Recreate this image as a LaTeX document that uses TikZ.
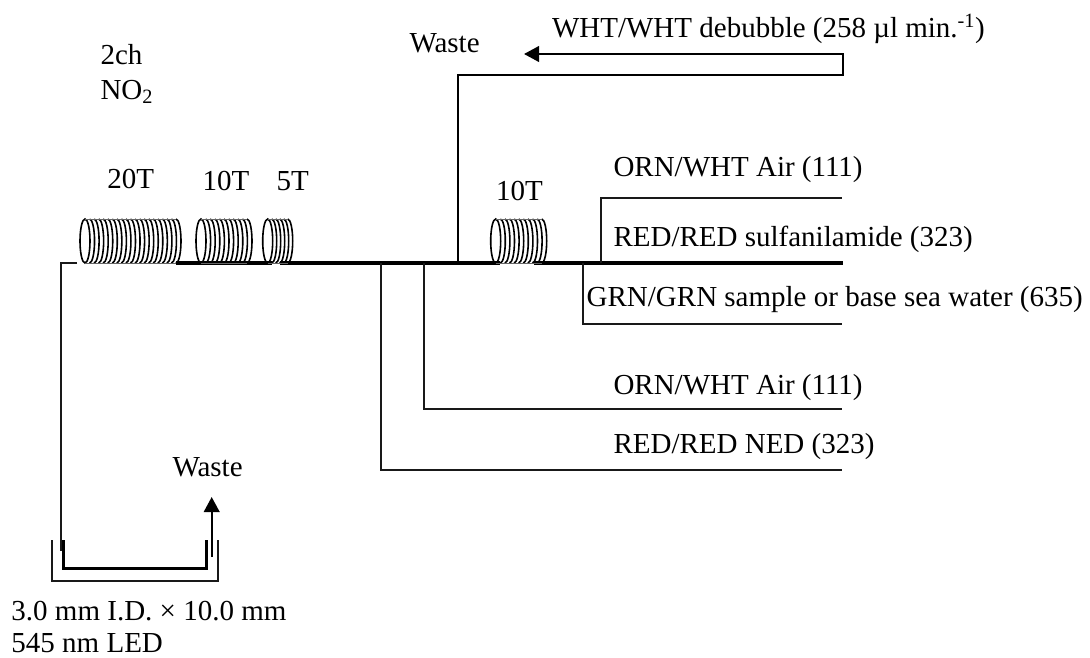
\documentclass[tikz,border=0pt]{standalone}
\usepackage{fontspec}
\setmainfont{Liberation Serif}
\usetikzlibrary{arrows.meta}
\tikzset{
  lab/.style={anchor=base west,inner sep=0pt,outer sep=0pt,font=\fontsize{29}{33}\selectfont},
  tube/.style={line width=2pt,black!90},
  main/.style={line width=3.2pt,black},
  mid/.style={line width=2.4pt,black},
  flow/.style={line width=2.4pt,black,-{Triangle[length=15pt,width=15.5pt]}},
  coilline/.style={line width=1.6pt,black},
  coilrim/.style={line width=.8pt,black!60}
}
\newcommand{\coilshape}[3]{% x first centre, turns, spacing
  \draw[coilline] (#1,241) ellipse [x radius=5,y radius=22];
  \foreach \k in {1,...,#2}{
    \pgfmathsetmacro{\cx}{#1+\k*#3}
    \draw[coilline] (\cx,219) arc[start angle=-90,end angle=90,x radius=5,y radius=22];
    \draw[coilrim] (\cx-#3,219) -- (\cx,219);
    \draw[coilrim] (\cx-#3,263) -- (\cx,263);
  }
}
\begin{document}
\begin{tikzpicture}[x=1pt,y=-1pt]
\useasboundingbox (0,0) rectangle (1090,657);
% anchor coordinates
\coordinate (mainL) at (176,263);
\coordinate (gap1a) at (272,263);
\coordinate (gap1b) at (280,263);
\coordinate (gap2a) at (500,263);
\coordinate (gap2b) at (534,263);
\coordinate (mainR) at (843,263);
\coordinate (inL) at (77,263);
\coordinate (inC) at (60.5,263);
\coordinate (inD) at (60.5,550.5);
\coordinate (jW) at (458,263);
\coordinate (wA) at (458,75);
\coordinate (wB) at (843,75);
\coordinate (wC) at (843,54);
\coordinate (wD) at (524,54);
\coordinate (j1) at (600.5,263);
\coordinate (j1a) at (600.5,197.5);
\coordinate (j1b) at (842,197.5);
\coordinate (j2) at (582.7,263);
\coordinate (j2a) at (582.7,324);
\coordinate (j2b) at (842,324);
\coordinate (j3) at (423.5,263);
\coordinate (j3a) at (423.5,408.7);
\coordinate (j3b) at (842,408.7);
\coordinate (j4) at (380.7,263);
\coordinate (j4a) at (380.7,470);
\coordinate (j4b) at (842,470);
\coordinate (oTL) at (52,540);
\coordinate (oBL) at (52,581);
\coordinate (oBR) at (218,581);
\coordinate (oTR) at (218,540);
\coordinate (iTL) at (63.5,540);
\coordinate (iBL) at (63.5,568.5);
\coordinate (iBR) at (206.5,568.5);
\coordinate (iTR) at (206.5,540);
\coordinate (oS) at (211.7,557);
\coordinate (oE) at (211.7,497);
% tubing
\draw[main] (mainL) -- (gap1a);
\draw[main] (gap1b) -- (gap2a);
\draw[main] (gap2b) -- (mainR);
\draw[tube] (inL) -- (inC) -- (inD);
\draw[mid,line cap=rect] (jW) -- (wA) -- (wB) -- (wC);
\draw[flow] (wC) -- (wD);
\draw[tube] (j1) -- (j1a) -- (j1b);
\draw[tube] (j2) -- (j2a) -- (j2b);
\draw[tube] (j3) -- (j3a) -- (j3b);
\draw[tube] (j4) -- (j4a) -- (j4b);
% flow cell
\draw[tube] (oTL) -- (oBL) -- (oBR) -- (oTR);
\draw[mid] (iTL) -- (iBL) -- (iBR) -- (iTR);
\draw[flow] (oS) -- (oE);
% coils
\coilshape{85}{20}{4.55}
\coilshape{201}{10}{4.6}
\coilshape{267.7}{5}{4}
\coilshape{495.7}{10}{4.6}
% labels
\node[lab] (t2ch) at (100.5,64) {2ch};
\node[lab] (tno) at (100.5,99) {NO\textsubscript{2}};
\node[lab] (t20) at (107.3,188.3) {20T};
\node[lab] (t10a) at (202.5,190) {10T};
\node[lab] (t5) at (276.5,190) {5T};
\node[lab] (t10b) at (496,200) {10T};
\node[lab] (twa) at (409.5,52) {Waste};
\node[lab] (twh) at (552,37) {WHT/WHT debubble (258 µl min.\textsuperscript{-1})};
\node[lab] (tor1) at (613.5,176) {ORN/WHT Air (111)};
\node[lab] (tred) at (613.5,246) {RED/RED sulfanilamide (323)};
\node[lab] (tgrn) at (586.7,306) {GRN/GRN sample or base sea water (635)};
\node[lab] (tor2) at (613.5,394) {ORN/WHT Air (111)};
\node[lab] (tned) at (613.5,453) {RED/RED NED (323)};
\node[lab] (twb) at (172.5,476.7) {Waste};
\node[lab] (tcell) at (11.5,620) {3.0 mm I.D. × 10.0 mm};
\node[lab] (tled) at (11.5,652) {545 nm LED};
\end{tikzpicture}
\end{document}
